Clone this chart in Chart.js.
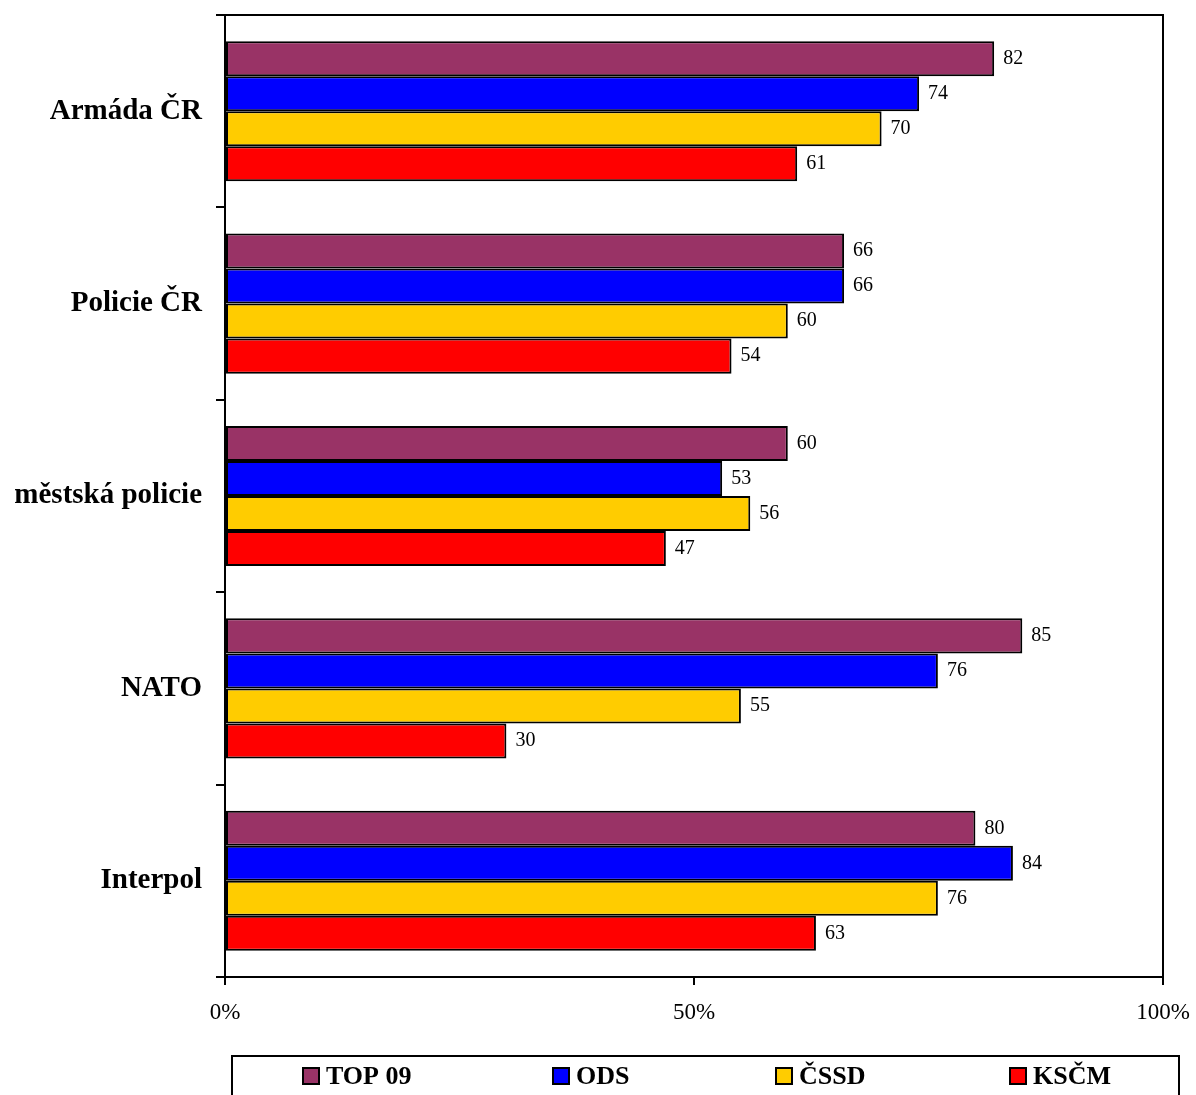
<!DOCTYPE html>
<html>
<head>
<meta charset="utf-8">
<script src="https://cdn.jsdelivr.net/npm/chart.js@4"></script>
<style>
  html, body { margin: 0; padding: 0; background: #fff; }
  #wrap { width: 1196px; height: 1095px; }
</style>
</head>
<body>
<div id="wrap"><canvas id="chart"></canvas></div>
<script>
const categories = ["Armáda ČR", "Policie ČR", "městská policie", "NATO", "Interpol"]
const seriesNames = ["TOP 09", "ODS", "ČSSD", "KSČM"]
const top09 = [82, 66, 60, 85, 80]
const ods = [74, 66, 53, 76, 84]
const cssd = [70, 60, 56, 55, 76]
const kscm = [61, 54, 47, 30, 63]
const xTicks = [0, 50, 100]

const colors = ["#993366", "#0000FF", "#FFCC00", "#FF0000"]
const FONT = "'Liberation Serif', 'Times New Roman', serif"

const values = [top09, ods, cssd, kscm]
const datasets = seriesNames.map((name, i) => ({
  label: name,
  data: values[i],
  backgroundColor: colors[i],
  borderColor: "#000",
  borderWidth: 2,
  borderSkipped: false,
  categoryPercentage: 0.728,
  barPercentage: 1
}))

// value labels next to each bar, plus the frame and the boxed legend
const extras = {
  id: "extras",
  afterDatasetsDraw(chart) {
    const ctx = chart.ctx
    const area = chart.chartArea
    ctx.save()
    // top and right frame lines
    ctx.strokeStyle = "#000"
    ctx.lineWidth = 2
    ctx.beginPath()
    ctx.moveTo(area.left, area.top)
    ctx.lineTo(area.right, area.top)
    ctx.lineTo(area.right, area.bottom)
    ctx.stroke()

    ctx.font = "20px " + FONT
    ctx.fillStyle = "#000"
    ctx.textBaseline = "middle"
    ctx.textAlign = "left"
    chart.data.datasets.forEach((ds, i) => {
      chart.getDatasetMeta(i).data.forEach((bar, j) => {
        ctx.fillText(String(ds.data[j]), bar.x + 9, bar.y)
      })
    })

    // legend
    ctx.lineWidth = 2
    ctx.strokeRect(232, 1056, 947, 60)
    const itemX = [303, 553, 776, 1010]
    ctx.font = "bold 26px " + FONT
    chart.data.datasets.forEach((ds, i) => {
      const x = itemX[i]
      ctx.fillStyle = ds.backgroundColor
      ctx.fillRect(x, 1068, 16, 16)
      ctx.strokeStyle = "#000"
      ctx.lineWidth = 2
      ctx.strokeRect(x, 1068, 16, 16)
      ctx.fillStyle = "#000"
      ctx.fillText(ds.label, x + 23, 1077)
    })
    ctx.restore()
  }
}

/* eslint-disable no-undef */
new Chart(document.getElementById("chart"), {
  type: "bar",
  data: { labels: categories, datasets: datasets },
  options: {
    indexAxis: "y",
    responsive: true,
    maintainAspectRatio: false,
    animation: false,
    layout: { padding: { top: 15, right: 33, left: 0, bottom: 0 } },
    plugins: {
      legend: { display: false },
      tooltip: { enabled: false }
    },
    scales: {
      x: {
        min: 0,
        max: 100,
        afterFit: (scale) => {
          scale.height = 118
          scale.paddingLeft = 0
          scale.paddingRight = 0
        },
        afterBuildTicks: (scale) => { scale.ticks = xTicks.map(v => ({ value: v })) },
        border: { display: true, color: "#000", width: 2 },
        grid: { drawOnChartArea: false, color: "#000", lineWidth: 2, tickLength: 8 },
        ticks: {
          padding: 14,
          color: "#000",
          font: { family: FONT, size: 23 },
          maxRotation: 0,
          callback: (v) => v + "%"
        }
      },
      y: {
        afterFit: (scale) => {
          scale.width = 225
          scale.paddingTop = 0
          scale.paddingBottom = 0
        },
        border: { display: true, color: "#000", width: 2 },
        grid: { drawOnChartArea: false, offset: true, color: "#000", lineWidth: 2, tickLength: 9 },
        ticks: {
          padding: 14,
          color: "#000",
          font: { family: FONT, size: 29, weight: "bold" }
        }
      }
    }
  },
  plugins: [extras]
})
</script>
</body>
</html>
